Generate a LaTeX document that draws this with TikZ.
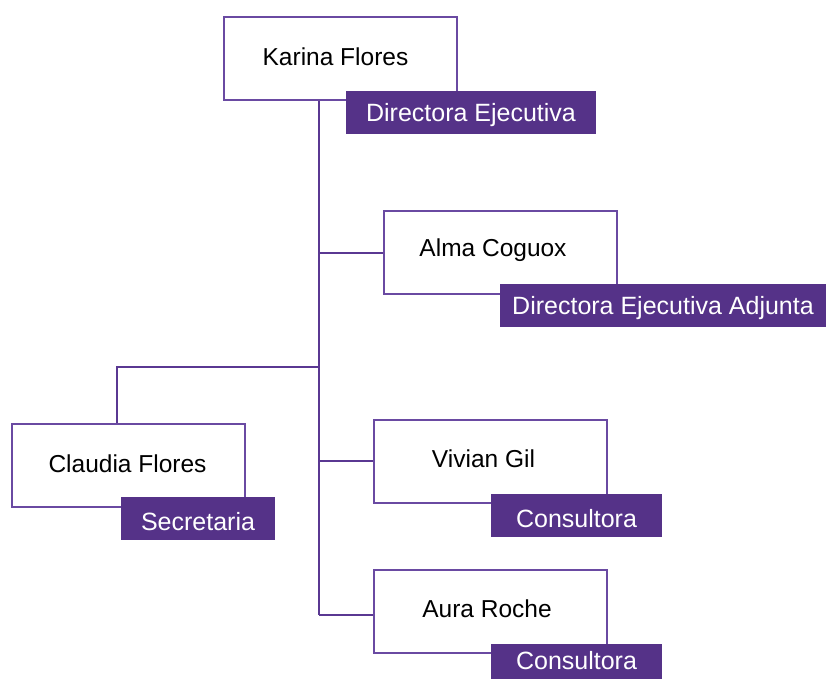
\documentclass[tikz,border=0pt]{standalone}
\usepackage{fontspec}
\setmainfont{Liberation Sans}
\definecolor{lineP}{HTML}{5A3892}
\definecolor{boxP}{HTML}{6A4AA2}
\definecolor{tagP}{HTML}{553288}
\newcommand{\upname}[2]{\hspace*{#1}\raisebox{2pt}[\height][\depth]{#2}}
\newcommand{\shiftrole}[2]{\raisebox{#1}[\height][\depth]{#2}}
\tikzset{
  person/.style={draw=boxP, line width=2pt, fill=white, rectangle, inner sep=0pt,
    minimum width=233pt, minimum height=83pt, font=\fontsize{24.5}{28}\selectfont, text=black},
  role/.style={fill=tagP, rectangle, inner sep=0pt, minimum height=43pt,
    font=\fontsize{25}{28}\selectfont, text=white},
  link/.style={draw=lineP, line width=2pt}
}
\begin{document}
\begin{tikzpicture}[x=1pt,y=-1pt]
\useasboundingbox[fill=white] (0,0) rectangle (826,679);
% junctions
\coordinate (trunk) at (319,100);
\coordinate (jAlma) at (319,253);
\coordinate (jSec) at (319,367);
\coordinate (jSecL) at (117,367);
\coordinate (jViv) at (319,461);
\coordinate (jAura) at (319,615);
% boxes (geometry first, for anchors)
\path (340.5,58.5) node[person] (karina) {};
\path (500,252.5) node[person] (alma) {};
\path (128.5,465.5) node[person] (claudia) {};
\path (490.5,461) node[person] (vivian) {};
\path (490.5,611) node[person] (aura) {};
% connectors
\draw[link] (karina.south -| trunk) -- (jAura);
\draw[link] (jAlma) -- (jAlma -| alma.west);
\draw[link] (jSec) -- (jSecL) -- (jSecL |- claudia.north);
\draw[link] (jViv) -- (jViv -| vivian.west);
\draw[link] (jAura) -- (jAura -| aura.west);
% boxes on top of connectors, with their names
\node[person] at (karina) {\upname{-10pt}{Karina Flores}};
\node[person] at (alma) {\upname{-14pt}{Alma Coguox}};
\node[person] at (claudia) {\upname{-2pt}{Claudia Flores}};
\node[person] at (vivian) {\upname{-14pt}{Vivian Gil}};
\node[person] at (aura) {\upname{-7pt}{Aura Roche}};
% role tags
\node[role, minimum width=250pt] (karinaR) at (471,112.5) {\shiftrole{-3pt}{Directora Ejecutiva}};
\node[role, minimum width=326pt] (almaR) at (663,305.5) {\shiftrole{-3pt}{Directora Ejecutiva Adjunta}};
\node[role, minimum width=154pt] (claudiaR) at (198,518.5) {\shiftrole{-3pt}{Secretaria}};
\node[role, minimum width=171pt] (vivianR) at (576.5,515.5) {\shiftrole{-3pt}{Consultora}};
\fill[tagP] (491,644) rectangle (662,679);
\node[font=\fontsize{25}{28}\selectfont, text=white, inner sep=0pt] (auraR) at (576.5,661) {Consultora};
\end{tikzpicture}
\end{document}
